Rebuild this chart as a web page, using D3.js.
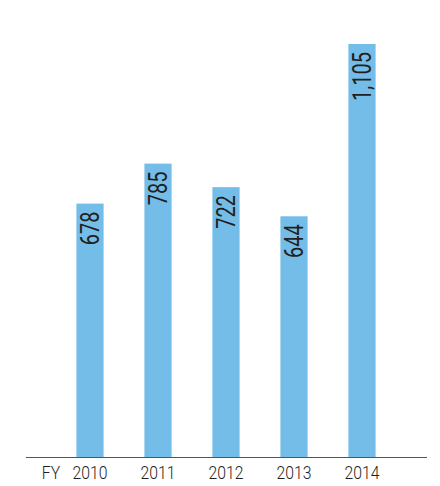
<!DOCTYPE html>
<html>
<head>
<meta charset="utf-8">
<script src="https://cdn.jsdelivr.net/npm/d3@7"></script>
<style>
  html, body { margin: 0; padding: 0; background: #fff; }
  svg text { font-family: Roboto, "Liberation Sans", sans-serif; font-weight: 300; fill: #231f20; }
</style>
</head>
<body>
<svg id="chart" width="440" height="486"></svg>
<script>
// Fiscal years and values
const years = ["2010", "2011", "2012", "2013", "2014"];
const values = [678, 785, 722, 644, 1105];
const valueLabels = ["678", "785", "722", "644", "1,105"];
const axisPrefix = "FY";

const svg = d3.select("#chart");
const baseY = 457;

const x = d3.scaleBand()
  .domain(years)
  .range([56, 396])
  .paddingInner(0.6)
  .paddingOuter(0.3);

const y = d3.scaleLinear()
  .domain([0, 1105])
  .range([baseY, 44]);

const data = years.map((yr, i) => ({ year: yr, value: values[i], label: valueLabels[i] }));

// Bars
svg.selectAll("rect.bar")
  .data(data)
  .join("rect")
  .attr("class", "bar")
  .attr("x", d => x(d.year))
  .attr("y", d => y(d.value))
  .attr("width", x.bandwidth())
  .attr("height", d => baseY - y(d.value))
  .attr("fill", "#74bde8");

// Value labels, rotated inside the top of each bar (condensed horizontally)
svg.selectAll("text.val")
  .data(data)
  .join("text")
  .attr("class", "val")
  .attr("transform", d => `translate(${x(d.year) + x.bandwidth() / 2},${y(d.value) + 8}) rotate(-90) scale(0.8,1)`)
  .attr("text-anchor", "end")
  .attr("dy", "0.36em")
  .style("font-size", "25px")
  .style("font-weight", 400)
  .text(d => d.label);

// Baseline axis
const axis = d3.axisBottom(x).tickSize(0).tickPadding(10);
const g = svg.append("g").attr("transform", `translate(0,${baseY})`).call(axis);
g.select(".domain").remove();
g.selectAll(".tick text")
  .attr("transform", "scale(0.9,1)")
  .style("font-size", "17.5px")
  .attr("fill", "#231f20");

svg.append("line")
  .attr("x1", 26).attr("x2", 427)
  .attr("y1", baseY + 0.5).attr("y2", baseY + 0.5)
  .attr("stroke", "#555")
  .attr("stroke-width", 1);

svg.append("text")
  .attr("transform", `translate(51,${baseY + 10}) scale(0.9,1)`)
  .attr("dy", "0.71em")
  .attr("text-anchor", "middle")
  .style("font-size", "17.5px")
  .text(axisPrefix);
</script>
</body>
</html>
